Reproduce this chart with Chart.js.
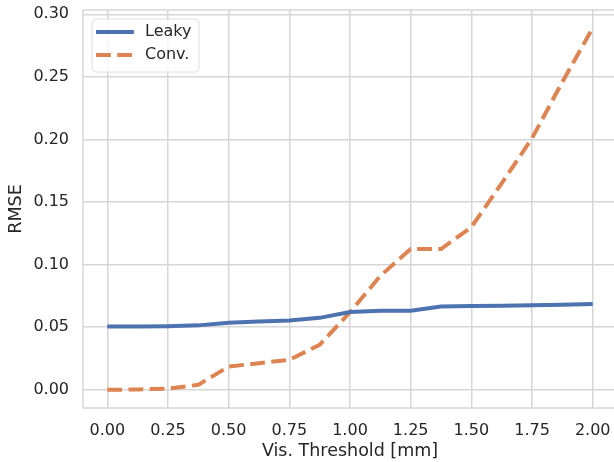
<!DOCTYPE html>
<html>
<head>
<meta charset="utf-8">
<script src="https://cdn.jsdelivr.net/npm/chart.js@4.4.1/dist/chart.umd.min.js"></script>
<style>
  html, body { margin: 0; padding: 0; background: #ffffff; overflow: hidden; width: 614px; height: 462px; }
  canvas { display: block; }
</style>
</head>
<body>
<canvas id="c" width="620" height="462"></canvas>
<script>
// ---- data ----
const thresholds = [0, 0.125, 0.25, 0.375, 0.5, 0.625, 0.75, 0.875, 1.0, 1.125, 1.25, 1.375, 1.5, 1.625, 1.75, 1.875, 2.0];
const leakyRMSE  = [0.0505, 0.0505, 0.0508, 0.0515, 0.0535, 0.0545, 0.0553, 0.0575, 0.0622, 0.0632, 0.0632, 0.0665, 0.0670, 0.0672, 0.0675, 0.0680, 0.0686];
const convRMSE   = [0.0, 0.0003, 0.001, 0.004, 0.0186, 0.0213, 0.024, 0.036, 0.062, 0.091, 0.1125, 0.1125, 0.130, 0.165, 0.201, 0.246, 0.289];
const seriesNames = ["Leaky", "Conv."];
const xTickValues = [0, 0.25, 0.5, 0.75, 1.0, 1.25, 1.5, 1.75, 2.0];
const yTickValues = [0, 0.05, 0.10, 0.15, 0.20, 0.25, 0.30];
const xTitle = "Vis. Threshold [mm]";
const yTitle = "RMSE";

const FONT = "'DejaVu Sans', 'Liberation Sans', sans-serif";
const TEXT = "#262626";
const GRID = "#d6d6d6";
const BLUE = "#4C72B0";
const ORANGE = "#DD8452";

const toXY = (ys) => thresholds.map((x, i) => ({ x: x, y: ys[i] }));

const framePlugin = {
  id: 'frame',
  beforeDatasetsDraw(chart) {
    const a = chart.chartArea, ctx = chart.ctx;
    ctx.save();
    ctx.strokeStyle = GRID;
    ctx.lineWidth = 1.5;
    ctx.strokeRect(a.left, a.top, a.right - a.left, a.bottom - a.top);
    ctx.restore();
  }
};

const legendPlugin = {
  id: 'mplLegend',
  afterDatasetsDraw(chart) {
    const ctx = chart.ctx;
    const bx = 92, by = 19, bw = 107, bh = 53, r = 4;
    ctx.save();
    ctx.beginPath();
    ctx.moveTo(bx + r, by);
    ctx.lineTo(bx + bw - r, by);
    ctx.quadraticCurveTo(bx + bw, by, bx + bw, by + r);
    ctx.lineTo(bx + bw, by + bh - r);
    ctx.quadraticCurveTo(bx + bw, by + bh, bx + bw - r, by + bh);
    ctx.lineTo(bx + r, by + bh);
    ctx.quadraticCurveTo(bx, by + bh, bx, by + bh - r);
    ctx.lineTo(bx, by + r);
    ctx.quadraticCurveTo(bx, by, bx + r, by);
    ctx.closePath();
    ctx.fillStyle = "rgba(255,255,255,0.8)";
    ctx.fill();
    ctx.strokeStyle = "#dedede";
    ctx.lineWidth = 1;
    ctx.stroke();
    chart.data.datasets.forEach((ds, i) => {
      const y = 32 + i * 23;
      ctx.beginPath();
      ctx.setLineDash(ds.borderDash || []);
      ctx.lineCap = 'butt';
      ctx.strokeStyle = ds.borderColor;
      ctx.lineWidth = ds.borderWidth;
      ctx.moveTo(96, y);
      ctx.lineTo(134, y);
      ctx.stroke();
      ctx.setLineDash([]);
      ctx.fillStyle = TEXT;
      ctx.font = "16px " + FONT;
      ctx.textBaseline = 'middle';
      ctx.textAlign = 'left';
      ctx.fillText(ds.label, 145, y);
    });
    ctx.restore();
  }
};

new Chart(document.getElementById('c'), {
  type: 'line',
  data: {
    datasets: [
      { label: seriesNames[0], data: toXY(leakyRMSE), borderColor: BLUE, borderWidth: 4,
        pointRadius: 0, tension: 0, fill: false, borderCapStyle: 'butt' },
      { label: seriesNames[1], data: toXY(convRMSE), borderColor: ORANGE, borderWidth: 4,
        borderDash: [14.8, 6.4], pointRadius: 0, tension: 0, fill: false, borderCapStyle: 'butt' }
    ]
  },
  options: {
    responsive: false,
    animation: false,
    devicePixelRatio: 1,
    layout: { padding: { top: 10, right: 3, left: 0, bottom: 0 } },
    plugins: { legend: { display: false }, tooltip: { enabled: false } },
    scales: {
      x: {
        type: 'linear',
        min: -0.1, max: 2.1,
        afterBuildTicks: (s) => { s.ticks = xTickValues.map(v => ({ value: v })); },
        afterFit: (s) => { s.height = 54; s.paddingLeft = 0; s.paddingRight = 0; },
        ticks: { font: { family: FONT, size: 16 }, color: TEXT, padding: 13,
                 maxRotation: 0, autoSkip: false,
                 callback: (v) => Number(v).toFixed(2) },
        grid: { color: GRID, lineWidth: 1.5, drawTicks: false },
        border: { display: false },
        title: { display: true, text: xTitle, font: { family: FONT, size: 17.5 }, color: TEXT,
                 padding: { top: 0, bottom: 0 } }
      },
      y: {
        min: -0.0145, max: 0.3034,
        afterBuildTicks: (s) => { s.ticks = yTickValues.map(v => ({ value: v })); },
        afterFit: (s) => { s.width = 83; s.paddingTop = 0; s.paddingBottom = 0; },
        ticks: { font: { family: FONT, size: 16 }, color: TEXT, padding: 14, autoSkip: false,
                 callback: (v) => Number(v).toFixed(2) },
        grid: { color: GRID, lineWidth: 1.5, drawTicks: false },
        border: { display: false },
        title: { display: true, text: yTitle, font: { family: FONT, size: 17.5 }, color: TEXT,
                 padding: { top: 5.5, bottom: 0 } }
      }
    }
  },
  plugins: [framePlugin, legendPlugin]
});
</script>
</body>
</html>
